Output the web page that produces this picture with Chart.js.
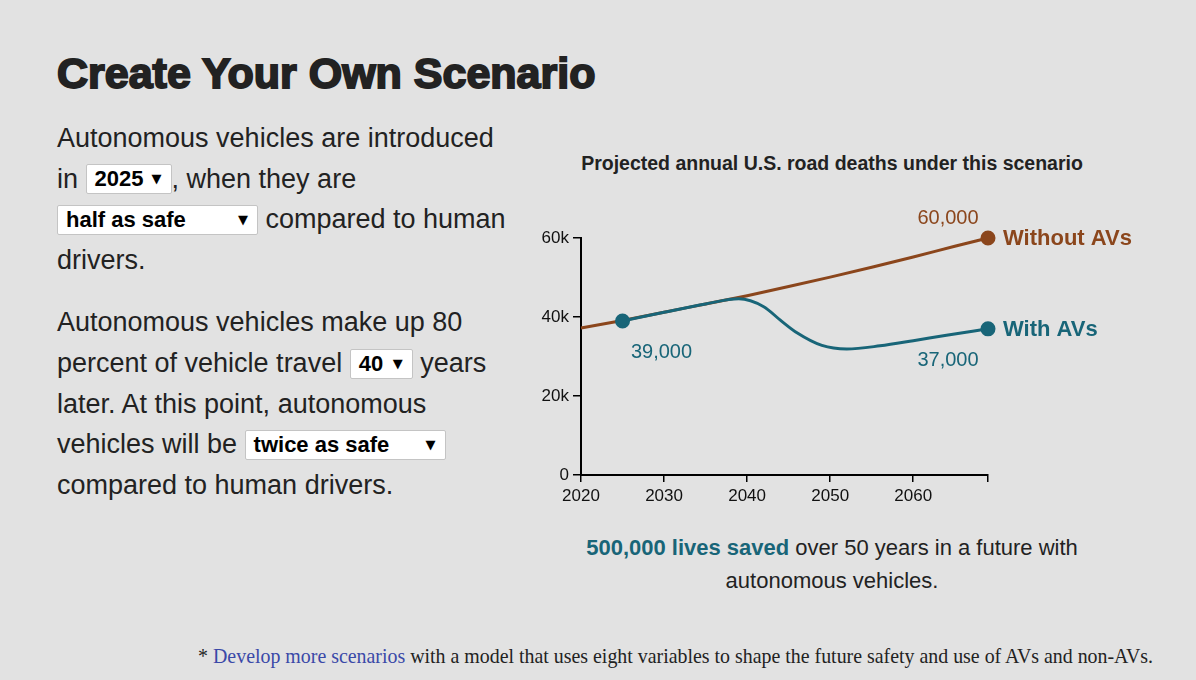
<!DOCTYPE html>
<html>
<head>
<meta charset="utf-8">
<script src="https://cdn.jsdelivr.net/npm/chart.js@4.4.1/dist/chart.umd.min.js"></script>
<style>
  html, body { margin: 0; padding: 0; }
  body {
    width: 1196px; height: 680px; background: #e2e2e2; position: relative; overflow: hidden;
    font-family: 'Liberation Sans', Arial, sans-serif; color: #222;
  }
  h1 {
    position: absolute; left: 57px; top: 46px; margin: 0;
    font: bold 43px 'Liberation Sans', Arial, sans-serif; line-height: 54px;
    -webkit-text-stroke: 1.9px #222; color: #222; letter-spacing: 0;
  }
  .story { position: absolute; left: 57px; top: 118px; width: 460px; font-size: 27px; line-height: 40.6px; }
  .story p { margin: 0 0 22px 0; }
  .pick {
    display: inline-flex; justify-content: space-between; align-items: center; box-sizing: border-box;
    height: 30px; background: #fff; border: 1px solid #c4c4c4; border-radius: 2px;
    padding: 0 9px 0 8px; font-weight: bold; font-size: 22px; color: #000; vertical-align: middle;
    position: relative; top: -1px;
  }
  .pick i { font-style: normal; font-size: 13px; font-family: 'DejaVu Sans', sans-serif; }
  #chartTitle {
    position: absolute; left: 532px; width: 600px; top: 152px; text-align: center;
    font-weight: bold; font-size: 19.5px; color: #222;
  }
  #wrap { position: absolute; left: 520px; top: 200px; width: 660px; height: 320px; }
  .summary {
    position: absolute; left: 560px; width: 544px; top: 531px; text-align: center;
    font-size: 22px; line-height: 33px; color: #222;
  }
  .summary b { color: #186578; }
  .note {
    position: absolute; right: 43px; top: 645px; white-space: nowrap;
    font-family: 'Liberation Serif', serif; font-size: 19.9px; color: #222;
  }
  .note a { color: #3a49a8; text-decoration: none; }
</style>
</head>
<body>
<h1>Create Your Own Scenario</h1>
<div class="story">
  <p>Autonomous vehicles are introduced in <span class="pick" style="width:86px">2025<i>▼</i></span>, when they are <span class="pick" style="width:201px">half as safe<i>▼</i></span> compared to human drivers.</p>
  <p>Autonomous vehicles make up 80 percent of vehicle travel <span class="pick" style="width:63px">40<i>▼</i></span> years later. At this point, autonomous vehicles will be <span class="pick" style="width:201px">twice as safe<i>▼</i></span> compared to human drivers.</p>
</div>

<div id="chartTitle">Projected annual U.S. road deaths under this scenario</div>
<div id="wrap"><canvas id="deaths-chart" width="660" height="320"></canvas></div>

<div class="summary"><b>500,000 lives saved</b> over 50 years in a future with autonomous vehicles.</div>
<div class="note">* <a href="#">Develop more scenarios</a> with a model that uses eight variables to shape the future safety and use of AVs and non-AVs.</div>

<script>
// values
const withoutYears = [2020, 2025, 2030, 2035, 2040, 2045, 2050, 2055, 2060, 2065, 2069];
const withoutDeaths = [37200, 39100, 41200, 43300, 45400, 47700, 50100, 52600, 55200, 57900, 60000];

const withYears = [2025, 2030, 2035, 2039, 2042, 2044, 2046, 2049, 2052, 2056, 2060, 2064, 2069];
const withDeaths = [39000, 41200, 43300, 44600, 42600, 39200, 36000, 32800, 31900, 32700, 34000, 35400, 37000];

const xTickYears = [2020, 2030, 2040, 2050, 2060];
const axisEndYear = 2069;
const yTicks = [0, 20000, 40000, 60000];

const brown = '#8b461c';
const teal = '#186578';

function toPoints(xs, ys) {
    return xs.map((x, i) => ({ x: x, y: ys[i] }));
}

// dots only on the ends that carry a label
function dotRadius(n, first) {
    return Array.from({ length: n }, (_, i) => (i === n - 1 || (first && i === 0)) ? 6 : 0);
}

const fmt = v => v.toLocaleString('en-US');

const lineLabels = {
    id: 'lineLabels',
    afterDatasetsDraw(chart) {
        const ctx = chart.ctx;
        const withPts = chart.getDatasetMeta(0).data;
        const withoutPts = chart.getDatasetMeta(1).data;
        const wStart = withPts[0], wEnd = withPts[withPts.length - 1];
        const nEnd = withoutPts[withoutPts.length - 1];
        ctx.save();
        ctx.textBaseline = 'middle';

        ctx.font = "20px 'Liberation Sans', Arial, sans-serif";
        ctx.textAlign = 'center';
        ctx.fillStyle = brown;
        ctx.fillText(fmt(withoutDeaths[withoutDeaths.length - 1]), nEnd.x - 40, nEnd.y - 20);
        ctx.fillStyle = teal;
        ctx.fillText(fmt(withDeaths[0]), wStart.x + 39, wStart.y + 32);
        ctx.fillText(fmt(withDeaths[withDeaths.length - 1]), wEnd.x - 40, wEnd.y + 32);

        ctx.font = "bold 22px 'Liberation Sans', Arial, sans-serif";
        ctx.textAlign = 'left';
        ctx.fillStyle = brown;
        ctx.fillText('Without AVs', nEnd.x + 15, nEnd.y + 1);
        ctx.fillStyle = teal;
        ctx.fillText('With AVs', wEnd.x + 15, wEnd.y + 1);
        ctx.restore();
    }
};

Chart.defaults.font.family = "'Liberation Sans', Arial, sans-serif";
Chart.defaults.color = '#111';

const ctx = document.getElementById('deaths-chart').getContext('2d');
new Chart(ctx, {
    type: 'line',
    data: {
        datasets: [{
            label: 'With AVs',
            data: toPoints(withYears, withDeaths),
            borderColor: teal,
            backgroundColor: teal,
            borderWidth: 3,
            pointRadius: dotRadius(withDeaths.length, true),
            pointHoverRadius: 0,
            cubicInterpolationMode: 'monotone',
            clip: false,
            order: 0
        }, {
            label: 'Without AVs',
            data: toPoints(withoutYears, withoutDeaths),
            borderColor: brown,
            backgroundColor: brown,
            borderWidth: 3,
            pointRadius: dotRadius(withoutDeaths.length, false),
            pointHoverRadius: 0,
            cubicInterpolationMode: 'monotone',
            clip: false,
            order: 1
        }]
    },
    options: {
        responsive: false,
        devicePixelRatio: 1,
        animation: false,
        events: [],
        layout: { padding: { top: 38, right: 192, bottom: 0, left: 0 } },
        plugins: { legend: { display: false }, tooltip: { enabled: false } },
        scales: {
            x: {
                type: 'linear',
                min: 2020,
                max: axisEndYear,
                afterBuildTicks: scale => {
                    scale.ticks = xTickYears.concat([axisEndYear]).map(v => ({ value: v }));
                },
                afterFit: scale => { scale.height = 45; },
                ticks: {
                    font: { size: 17 },
                    padding: 4,
                    maxRotation: 0,
                    callback: v => v === axisEndYear ? '' : String(v)
                },
                grid: { drawOnChartArea: false, drawTicks: true, tickLength: 7, color: '#000', lineWidth: 1.5 },
                border: { color: '#000', width: 2 }
            },
            y: {
                min: 0,
                max: 60000,
                afterBuildTicks: scale => {
                    scale.ticks = yTicks.map(v => ({ value: v }));
                },
                afterFit: scale => { scale.width = 61; },
                ticks: {
                    font: { size: 17 },
                    padding: 4,
                    callback: v => v === 0 ? '0' : (v / 1000) + 'k'
                },
                grid: { drawOnChartArea: false, drawTicks: true, tickLength: 8, color: '#000', lineWidth: 1.5 },
                border: { color: '#000', width: 2 }
            }
        }
    },
    plugins: [lineLabels]
});
</script>
</body>
</html>
